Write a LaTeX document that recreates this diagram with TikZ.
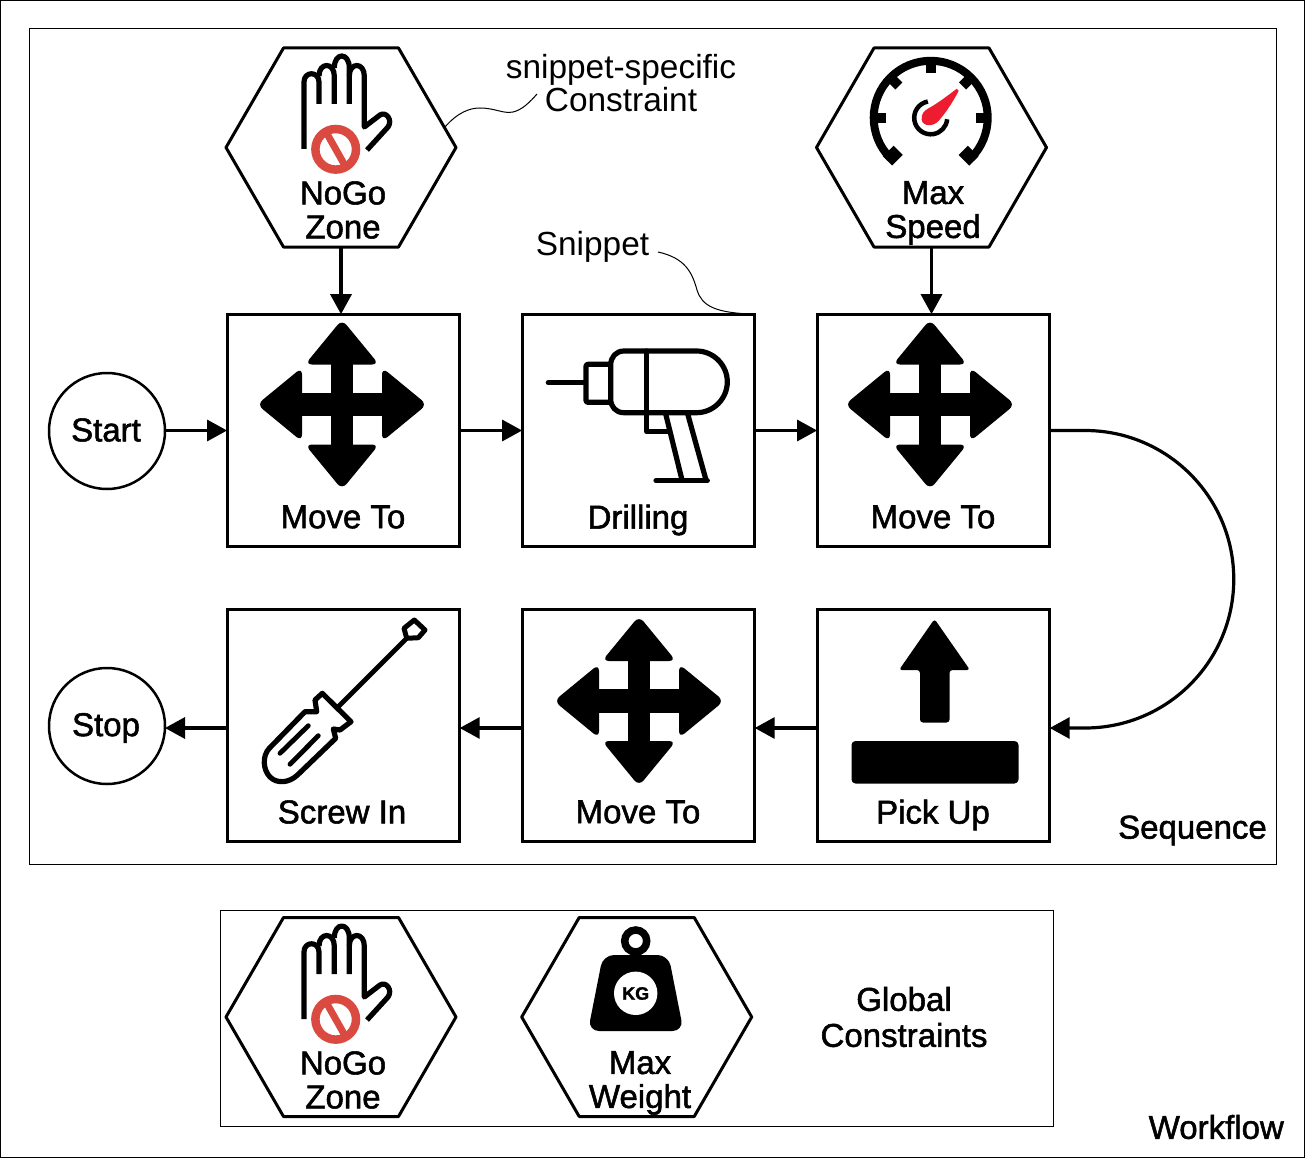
\documentclass[tikz,border=0pt]{standalone}
\usepackage{fontspec}
\setmainfont{Liberation Sans}
\newfontfamily\heavyfont[FakeBold=1.6]{Liberation Sans}
\usetikzlibrary{arrows.meta,calc}
\definecolor{nored}{HTML}{DB4A40}
\definecolor{needlered}{HTML}{ED1C2E}
\tikzset{
  x=1pt,y=-1pt,
  frame/.style={draw=black,line width=1pt,fill=none},
  block/.style={draw=black,line width=3pt,rectangle,minimum size=232.6pt,inner sep=0pt,outer sep=0pt},
  hexa/.style={rectangle,minimum width=230pt,minimum height=199pt,inner sep=0pt,outer sep=0pt},
  hexline/.style={draw=black,line width=3pt,line join=round},
  term/.style={draw=black,line width=2.5pt,circle,minimum size=116pt,inner sep=0pt,outer sep=0pt},
  lbl/.style={font=\heavyfont\fontsize{33}{34}\selectfont,align=center,inner sep=0pt},
  thin lbl/.style={font=\fontsize{33.4}{33}\selectfont,align=center,inner sep=0pt},
  flow/.style={draw=black,line width=3.2pt,-{Triangle[length=20pt,width=21pt]}},
  callout/.style={draw=black,line width=1pt},
  ink/.style={draw=black,line width=5.2pt,line cap=round,line join=round,fill=none},
  moveicon/.pic={
    \fill[black] (-11.2,-45) rectangle (11.2,45);
    \fill[black] (-45,-11.7) rectangle (45,11.7);
    \foreach \a in {0,90,180,270}{
      \fill[black,rotate=\a,rounded corners=7pt] (0,-85) -- (37,-40) -- (-37,-40) -- cycle;
    }
  },
  handicon/.pic={
    \draw[ink,line cap=butt] (304,149) -- (304,82) .. controls (304,71) and (319,71) .. (319,82) -- (319,104);
    \draw[ink,line cap=butt] (319,76) .. controls (319,62) and (334.3,62) .. (334.3,76) -- (334.3,104);
    \draw[ink,line cap=butt] (334.3,68) .. controls (334.3,52) and (349.3,52) .. (349.3,68) -- (349.3,104);
    \draw[ink,line cap=butt] (349.3,76) .. controls (349.3,62) and (364.3,62) .. (364.3,76) -- (364.3,127) -- (380,115) .. controls (386,111) and (393,120) .. (388,127) -- (367,150);
    \fill[white] (335.7,149.3) circle[radius=24.5pt];
    \draw[nored,line width=8.5pt] (335.7,149.3) circle[radius=20.3pt];
    \draw[nored,line width=7pt] (326,132) -- (345.5,166.5);
  },
}
\begin{document}
\begin{tikzpicture}
\useasboundingbox (0,0) rectangle (1305,1158);
\fill[white] (0,0) rectangle (1305,1158);
\draw[draw=black,line width=1.5pt] (0.7,0.7) rectangle (1304.3,1157.3);
\draw[frame] (29.5,29) rectangle (1276.7,864);
\draw[frame] (220,910) rectangle (1053.7,1126);

% blocks
\node[term] (start) at (107,431) {};
\node[term] (stop)  at (107,726) {};
\node[block] (m1) at (343.4,430.5) {};
\node[block] (drill) at (638.4,430.5) {};
\node[block] (m2) at (933.4,430.5) {};
\node[block] (screw) at (343.4,725.5) {};
\node[block] (m3) at (638.4,725.5) {};
\node[block] (pick) at (933.4,725.5) {};
\node[hexa] (nogo) at (341,147.5) {};
\node[hexa] (speed) at (931.5,147.5) {};
\node[hexa] (nogob) at (341,1017) {};
\node[hexa] (weight) at (636.7,1017) {};
\foreach \h in {nogo,speed,nogob,weight}{
  \draw[hexline] (\h.west) -- ($(\h.north west)+(57.5,0)$) -- ($(\h.north east)+(-57.5,0)$) -- (\h.east) -- ($(\h.south east)+(-57.5,0)$) -- ($(\h.south west)+(57.5,0)$) -- cycle;
}

% icons
\pic at (342,404.5) {moveicon};
\pic at (930,404.5) {moveicon};
\pic at (639,701) {moveicon};
\pic at (0,0) {handicon};
\pic at (0,870) {handicon};

% gauge
\begin{scope}[shift={(930.7,117.8)}]
  \draw[black,line width=8pt] (225:57pt) arc (225:-45:57pt);
  \foreach \a in {45,90,135,0,180}{
    \draw[black,line width=10pt] (\a:45pt) -- (\a:58pt);
  }
  \foreach \a in {225,-45}{
    \draw[black,line width=13pt] (\a:46pt) -- (\a:61pt);
  }
  \draw[black,line width=4.5pt] (100:16.5pt) arc (100:355:16.5pt);
  \fill[needlered,line join=round] (26,-29) -- (28,-27) .. controls (20,-12) and (14,-4) .. (8,3) .. controls (3,9) and (-8,9) .. (-9,2) .. controls (-10,-4) and (-6,-7) .. (-3,-9) .. controls (8,-15) and (18,-23) .. (26,-29) -- cycle;
\end{scope}

% drill
\draw[ink] (548.3,382.7) -- (585,382.7);
\draw[ink,rounded corners=2pt] (610,364.3) -- (586,364.3) -- (586,402.3) -- (610,402.3);
\draw[ink] (624,351) -- (696.5,351) .. controls (713.5,351) and (727.3,365) .. (727.3,381.8) .. controls (727.3,398.7) and (713.5,412.7) .. (696.5,412.7) -- (624,412.7) .. controls (616,412.7) and (610.7,407) .. (610.7,399) -- (610.7,365) .. controls (610.7,357) and (616,351) .. (624,351) -- cycle;
\draw[ink] (646.7,351) -- (646.7,431.7) -- (667.7,431.7);
\draw[ink] (665.7,414) -- (682,480);
\draw[ink] (687.7,414) -- (706,480);
\draw[ink] (656,480.7) -- (707.3,480.7);

% screwdriver
\draw[ink] (322.3,693.3) -- (351,721.7) -- (340,730) -- (333.3,729) -- (335.7,738.3) -- (297.5,775) .. controls (289,783) and (277,784) .. (270,777) .. controls (263,770) and (262,756) .. (269.3,748.3) -- (305,711.7) -- (316.7,711.7) -- (315,700) -- cycle;
\draw[ink,line width=4.8pt] (280,753.3) -- (308.3,725.7);
\draw[ink,line width=4.8pt] (290,764.3) -- (318.3,735.7);
\draw[ink,line width=4.8pt] (338.3,706.7) -- (405,640);
\draw[ink,line width=5pt] (414.3,620) -- (425,630) -- (418.3,637.7) -- (406.7,638.3) -- (404,628.3) -- cycle;

% pick up
\fill[black,rounded corners=3pt] (934.5,619) -- (970,670) -- (949.5,670) -- (949.5,722.5) -- (920,722.5) -- (920,670) -- (899,670) -- cycle;
\fill[black,rounded corners=4pt] (851.5,741) rectangle (1018.5,783.5);

% weight
\draw[black,line width=7.5pt] (635.7,941) circle[radius=11pt];
\fill[black,rounded corners=11pt] (603,955) -- (668.5,955) -- (683.5,1031) -- (588,1031) -- cycle;
\fill[white] (635.7,993.3) circle[radius=21.7pt];
\node[font=\heavyfont\bfseries\fontsize{18}{18}\selectfont,inner sep=0pt] (kg) at (635.7,993.5) {KG};

% labels
\node[lbl] (tstart) at (106,430) {Start};
\node[lbl] (tstop) at (106,728) {Stop};
\node[lbl] (t1) at (343,517) {Move To};
\node[lbl] (t2) at (638,520) {Drilling};
\node[lbl] (t3) at (933,517) {Move To};
\node[lbl] (t4) at (342,812) {Screw In};
\node[lbl] (t5) at (638,812) {Move To};
\node[lbl] (t6) at (933,815) {Pick Up};
\node[lbl] (t7) at (343,210) {NoGo\\Zone};
\node[lbl] (t8) at (933,213) {Max\\Speed};
\node[lbl] (t9) at (343,1080) {NoGo\\Zone};
\node[lbl] (t10) at (640,1083) {Max\\Weight};
\node[lbl,font=\heavyfont\fontsize{33}{36}\selectfont] (t11) at (904,1017) {Global\\Constraints};
\node[lbl,anchor=east] (t12) at (1267,830.5) {Sequence};
\node[lbl,anchor=east] (t13) at (1284,1127) {Workflow};
\node[thin lbl] (t14) at (621,83) {snippet-specific\\Constraint};
\node[thin lbl] (t15) at (592.5,247) {Snippet};

% connectors
\coordinate (pickin) at ([yshift=-2.5pt]pick.east);
\coordinate (pickout) at ([yshift=-2.5pt]pick.west);
\coordinate (m3in) at ([yshift=-2.5pt]m3.east);
\coordinate (m3out) at ([yshift=-2.5pt]m3.west);
\coordinate (screwin) at ([yshift=-2.5pt]screw.east);
\coordinate (screwout) at ([yshift=-2.5pt]screw.west);
\coordinate (stopin) at ([yshift=-2pt]stop.east);
\draw[flow] (start.east |- m1.west) -- (m1.west);
\draw[flow] (m1.east) -- (drill.west);
\draw[flow] (drill.east) -- (m2.west);
\draw[flow] (m2.east) -- (1085,430.5) arc (90:-90:148.75pt) -- (pickin);
\draw[flow] (pickout) -- (m3in);
\draw[flow] (m3out) -- (screwin);
\draw[flow] (screwout) -- (stopin);
\draw[flow] (nogo.south) -- (nogo.south |- m1.north);
\draw[flow] (speed.south) -- (speed.south |- m2.north);

\coordinate (c1) at ($(nogo.east)+(-11.5,-20)$);
\coordinate (c2) at (537,94);
\draw[callout] (c1) .. controls (458,112) and (470,108) .. (480,108) .. controls (495,108) and (503,114) .. (513,112) .. controls (522,110) and (530,102) .. (c2);
\coordinate (c3) at (658,252);
\draw[callout] (c3) .. controls (685,258) and (692,272) .. (697,290) .. controls (702,306) and (715,313) .. (drill.north east);
\end{tikzpicture}
\end{document}
